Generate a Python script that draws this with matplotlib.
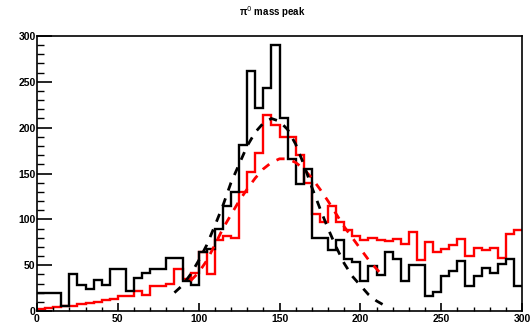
import numpy as np
import matplotlib
matplotlib.use("Agg")
import matplotlib.pyplot as plt
from matplotlib.ticker import MultipleLocator

plt.rcParams['font.family'] = ['Liberation Sans', 'DejaVu Sans']

# histogram binning (0..300, 60 bins of 5)
bin_edges = np.arange(0, 301, 5)

black_counts = [20, 20, 20, 6, 40, 28, 24, 34, 28, 46,
                46, 22, 36, 42, 46, 46, 58, 58, 33, 28,
                64, 68, 90, 115, 130, 181, 262, 221, 243, 290,
                211, 166, 139, 155, 80, 80, 67, 77, 57, 53,
                33, 49, 39, 64, 57, 33, 50, 50, 16, 21,
                38, 44, 55, 27, 38, 47, 42, 51, 57, 27]

red_counts = [2, 3, 4, 5, 6, 8, 9, 10, 12, 13,
              16, 16, 22, 17, 27, 27, 29, 46, 35, 42,
              64, 40, 77, 82, 80, 130, 152, 172, 214, 203,
              190, 190, 170, 140, 106, 97, 115, 97, 88, 82,
              77, 80, 77, 76, 79, 73, 86, 56, 75, 64,
              68, 72, 79, 60, 69, 67, 69, 58, 84, 88]

# dashed fit curves
black_fit_x = [85, 90, 95, 100, 105, 110, 115, 120, 125, 130, 135, 140, 145,
               150, 155, 160, 165, 170, 175, 180, 185, 190, 195, 200, 205, 210, 214]
black_fit_y = [20, 28, 40, 55, 72, 93, 115, 140, 160, 180, 195, 205, 210,
               207, 198, 182, 160, 135, 112, 90, 70, 52, 38, 28, 18, 11, 7]

red_fit_x = [95, 100, 105, 110, 115, 120, 125, 130, 135, 140, 145, 150, 155,
             160, 165, 170, 175, 180, 185, 190, 195, 200, 205, 212]
red_fit_y = [33, 42, 55, 72, 90, 105, 120, 133, 145, 155, 162, 166, 166,
             162, 155, 145, 133, 120, 106, 92, 80, 68, 56, 42]

title = "\u03c0$^0$ mass peak"

fig = plt.figure(figsize=(5.31, 3.31), dpi=100)
ax = fig.add_axes([37/531, 20/331, 485/531, 275/331])

ax.stairs(red_counts, bin_edges, color='#ff0000', lw=1.7, baseline=None)
ax.stairs(black_counts, bin_edges, color='black', lw=1.7, baseline=None)
ax.plot(red_fit_x, red_fit_y, color='#ff0000', lw=2.0, ls=(0, (3, 3)))
ax.plot(black_fit_x, black_fit_y, color='black', lw=2.0, ls=(0, (3, 3)))

ax.set_xlim(0, 300)
ax.set_ylim(0, 300)
ax.xaxis.set_major_locator(MultipleLocator(50))
ax.xaxis.set_minor_locator(MultipleLocator(10))
ax.yaxis.set_major_locator(MultipleLocator(50))
ax.yaxis.set_minor_locator(MultipleLocator(10))
ax.tick_params(axis='y', which='major', direction='in', length=10.5, width=1.2,
               labelsize=7.5, pad=1)
ax.tick_params(axis='y', which='minor', direction='in', length=5, width=1.0)
ax.tick_params(axis='x', which='major', direction='in', length=6, width=1.2,
               labelsize=7.5, pad=2)
ax.tick_params(axis='x', which='minor', direction='in', length=3, width=1.0)
ax.tick_params(top=False, right=False)
for lbl in ax.get_xticklabels() + ax.get_yticklabels():
    lbl.set_fontweight('bold')
for s in ax.spines.values():
    s.set_linewidth(1.2)

fig.text(272/531, 1 - 12/331, title, ha='center', va='center', fontsize=7,
         fontweight='bold')

fig.savefig('out.png', dpi=100)
